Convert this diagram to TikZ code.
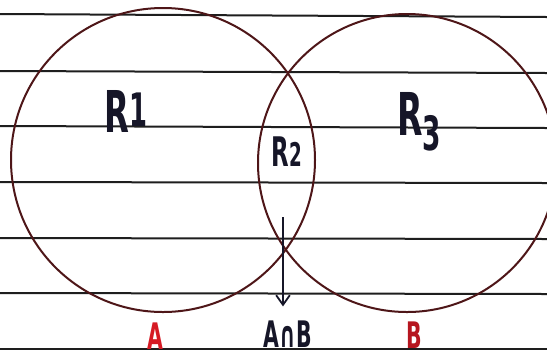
\documentclass[tikz,border=0pt]{standalone}
\usepackage{graphicx}
\usepackage{fontspec}
\setmainfont{DejaVu Sans}
\newfontfamily\handfont[FakeStretch=0.56]{DejaVu Sans}
\usetikzlibrary{arrows.meta}
\definecolor{ink}{RGB}{22,22,40}
\definecolor{rim}{RGB}{78,22,24}
\definecolor{redink}{RGB}{214,26,36}
\definecolor{ruleink}{RGB}{30,30,30}
\newcommand{\idx}[2][0pt]{\raisebox{#1}{\scalebox{0.8}{#2}}}

\begin{document}
\begin{tikzpicture}[x=0.25mm, y=-0.25mm,
    ruling/.style={draw=ruleink, line width=0.5mm},
    setcircle/.style={draw=rim, line width=0.5mm},
    region/.style={text=ink, inner sep=0pt, font=\handfont\bfseries},
    setname/.style={text=redink, inner sep=0pt, font=\handfont\bfseries\fontsize{26}{26}\selectfont},
    arrow/.style={-{Straight Barb[length=2.4mm, width=3.4mm]}, draw=ink, line width=0.45mm}
]
\useasboundingbox (0,0) rectangle (547,358);
\fill[white] (0,0) rectangle (547,358);

\begin{scope}
\clip (0,0) rectangle (547,358);
% ruled paper
\foreach \yl/\yr in {14/17, 71/73, 126/128, 182/183, 238/239, 293/294, 349/349}
    \draw[ruling] (0,\yl) -- (547,\yr);
% the two sets
\draw[setcircle] (163,160) circle[radius=152];
\draw[setcircle] (407,163) circle[radius=149];
\end{scope}

\node[region, font=\handfont\bfseries\fontsize{41}{41}\selectfont] (r1) at (126,111) {R\idx[0.1em]{1}};
\node[region, font=\handfont\bfseries\fontsize{29}{29}\selectfont] (r2) at (287,152) {R\idx{2}};
\node[region, font=\handfont\bfseries\fontsize{42}{42}\selectfont] (r3) at (419,122) {R\idx[-0.25em]{3}};

\node[setname] (a) at (155,336) {A};
\node[setname, text=redink!85!black] (b) at (414,335) {B};
\node[setname, text=ink] (anb) at (288,334) {A∩B};

\coordinate (tail) at (283,217);
\draw[arrow, shorten >=3.5mm] (tail) -- (tail |- anb.north);

\end{tikzpicture}
\end{document}
